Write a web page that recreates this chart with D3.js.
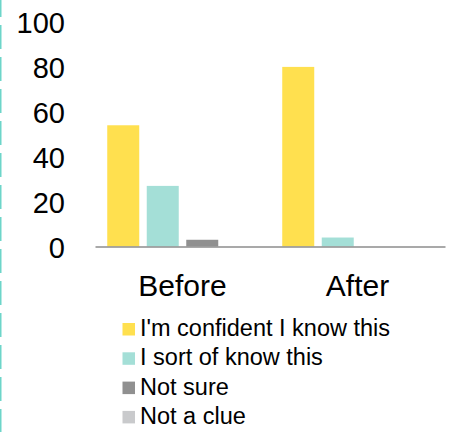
<!DOCTYPE html>
<html>
<head>
<meta charset="utf-8">
<script src="https://cdn.jsdelivr.net/npm/d3@7"></script>
<style>
  html, body { margin: 0; padding: 0; background: #ffffff; }
  svg { display: block; }
  text { font-family: "Liberation Sans", Arial, sans-serif; fill: #000; }
</style>
</head>
<body>
<svg id="chart" width="450" height="432"></svg>
<script>
const categories = ["Before", "After"];
const seriesNames = ["I'm confident I know this", "I sort of know this", "Not sure", "Not a clue"];
const seriesColors = ["#ffe04f", "#a4dfd7", "#909090", "#c9cacc"];
const confidentValues = [54, 80];
const sortOfValues = [27, 4];
const notSureValues = [3, 0];
const notAClueValues = [0, 0];
const yTicks = [0, 20, 40, 60, 80, 100];

const seriesValues = [confidentValues, sortOfValues, notSureValues, notAClueValues];

const svg = d3.select("#chart");
const W = 450, H = 432;

// left dashed border
svg.append("line")
  .attr("x1", 0.75).attr("x2", 0.75)
  .attr("y1", 0).attr("y2", H)
  .attr("stroke", "#6dd5c9")
  .attr("stroke-width", 1.5)
  .attr("stroke-dasharray", "24 8")
  .attr("stroke-dashoffset", 7);

const x0 = d3.scaleBand().domain(categories).range([95, 445]).padding(0);
const x1 = d3.scaleBand().domain(d3.range(seriesNames.length))
  .range([0, x0.bandwidth()]).paddingInner(0.19).paddingOuter(0.31);
const y = d3.scaleLinear().domain([0, 100]).range([246.5, 22]);

// y tick labels
const yAxis = d3.axisLeft(y).tickValues(yTicks).tickSize(0).tickPadding(0);
const gy = svg.append("g").attr("transform", "translate(65,1.6)").call(yAxis);
gy.select(".domain").remove();
gy.selectAll("text")
  .attr("font-size", 29)
  .attr("font-family", "Liberation Sans, Arial, sans-serif")
  .attr("fill", "#000");

// bars
const groups = svg.append("g").selectAll("g")
  .data(categories)
  .join("g")
  .attr("transform", d => `translate(${x0(d)},0)`);

groups.selectAll("rect")
  .data((c, ci) => seriesValues.map((vals, si) => ({ si, v: vals[ci] })))
  .join("rect")
  .attr("x", d => x1(d.si))
  .attr("width", x1.bandwidth())
  .attr("y", d => y(d.v))
  .attr("height", d => y(0) - y(d.v))
  .attr("fill", d => seriesColors[d.si]);

// baseline axis
const xAxis = d3.axisBottom(x0).tickSize(0).tickPadding(0);
const gx = svg.append("g").attr("transform", `translate(0,${y(0)})`).call(xAxis);
gx.select(".domain").attr("stroke", "#8c8c8c").attr("stroke-width", 1.5);
gx.selectAll("text")
  .attr("font-size", 30)
  .attr("font-family", "Liberation Sans, Arial, sans-serif")
  .attr("fill", "#000")
  .attr("dy", null)
  .attr("y", 49);

// legend
const legend = svg.append("g").attr("transform", "translate(122.5,336)");
const rows = legend.selectAll("g")
  .data(seriesNames)
  .join("g")
  .attr("transform", (d, i) => `translate(0,${i * 29.3})`);
rows.append("rect")
  .attr("x", 0).attr("y", -13)
  .attr("width", 12.5).attr("height", 12.5)
  .attr("fill", (d, i) => seriesColors[i]);
rows.append("text")
  .attr("x", 17.5).attr("y", 0)
  .attr("font-size", 23.5)
  .text(d => d);
</script>
</body>
</html>
